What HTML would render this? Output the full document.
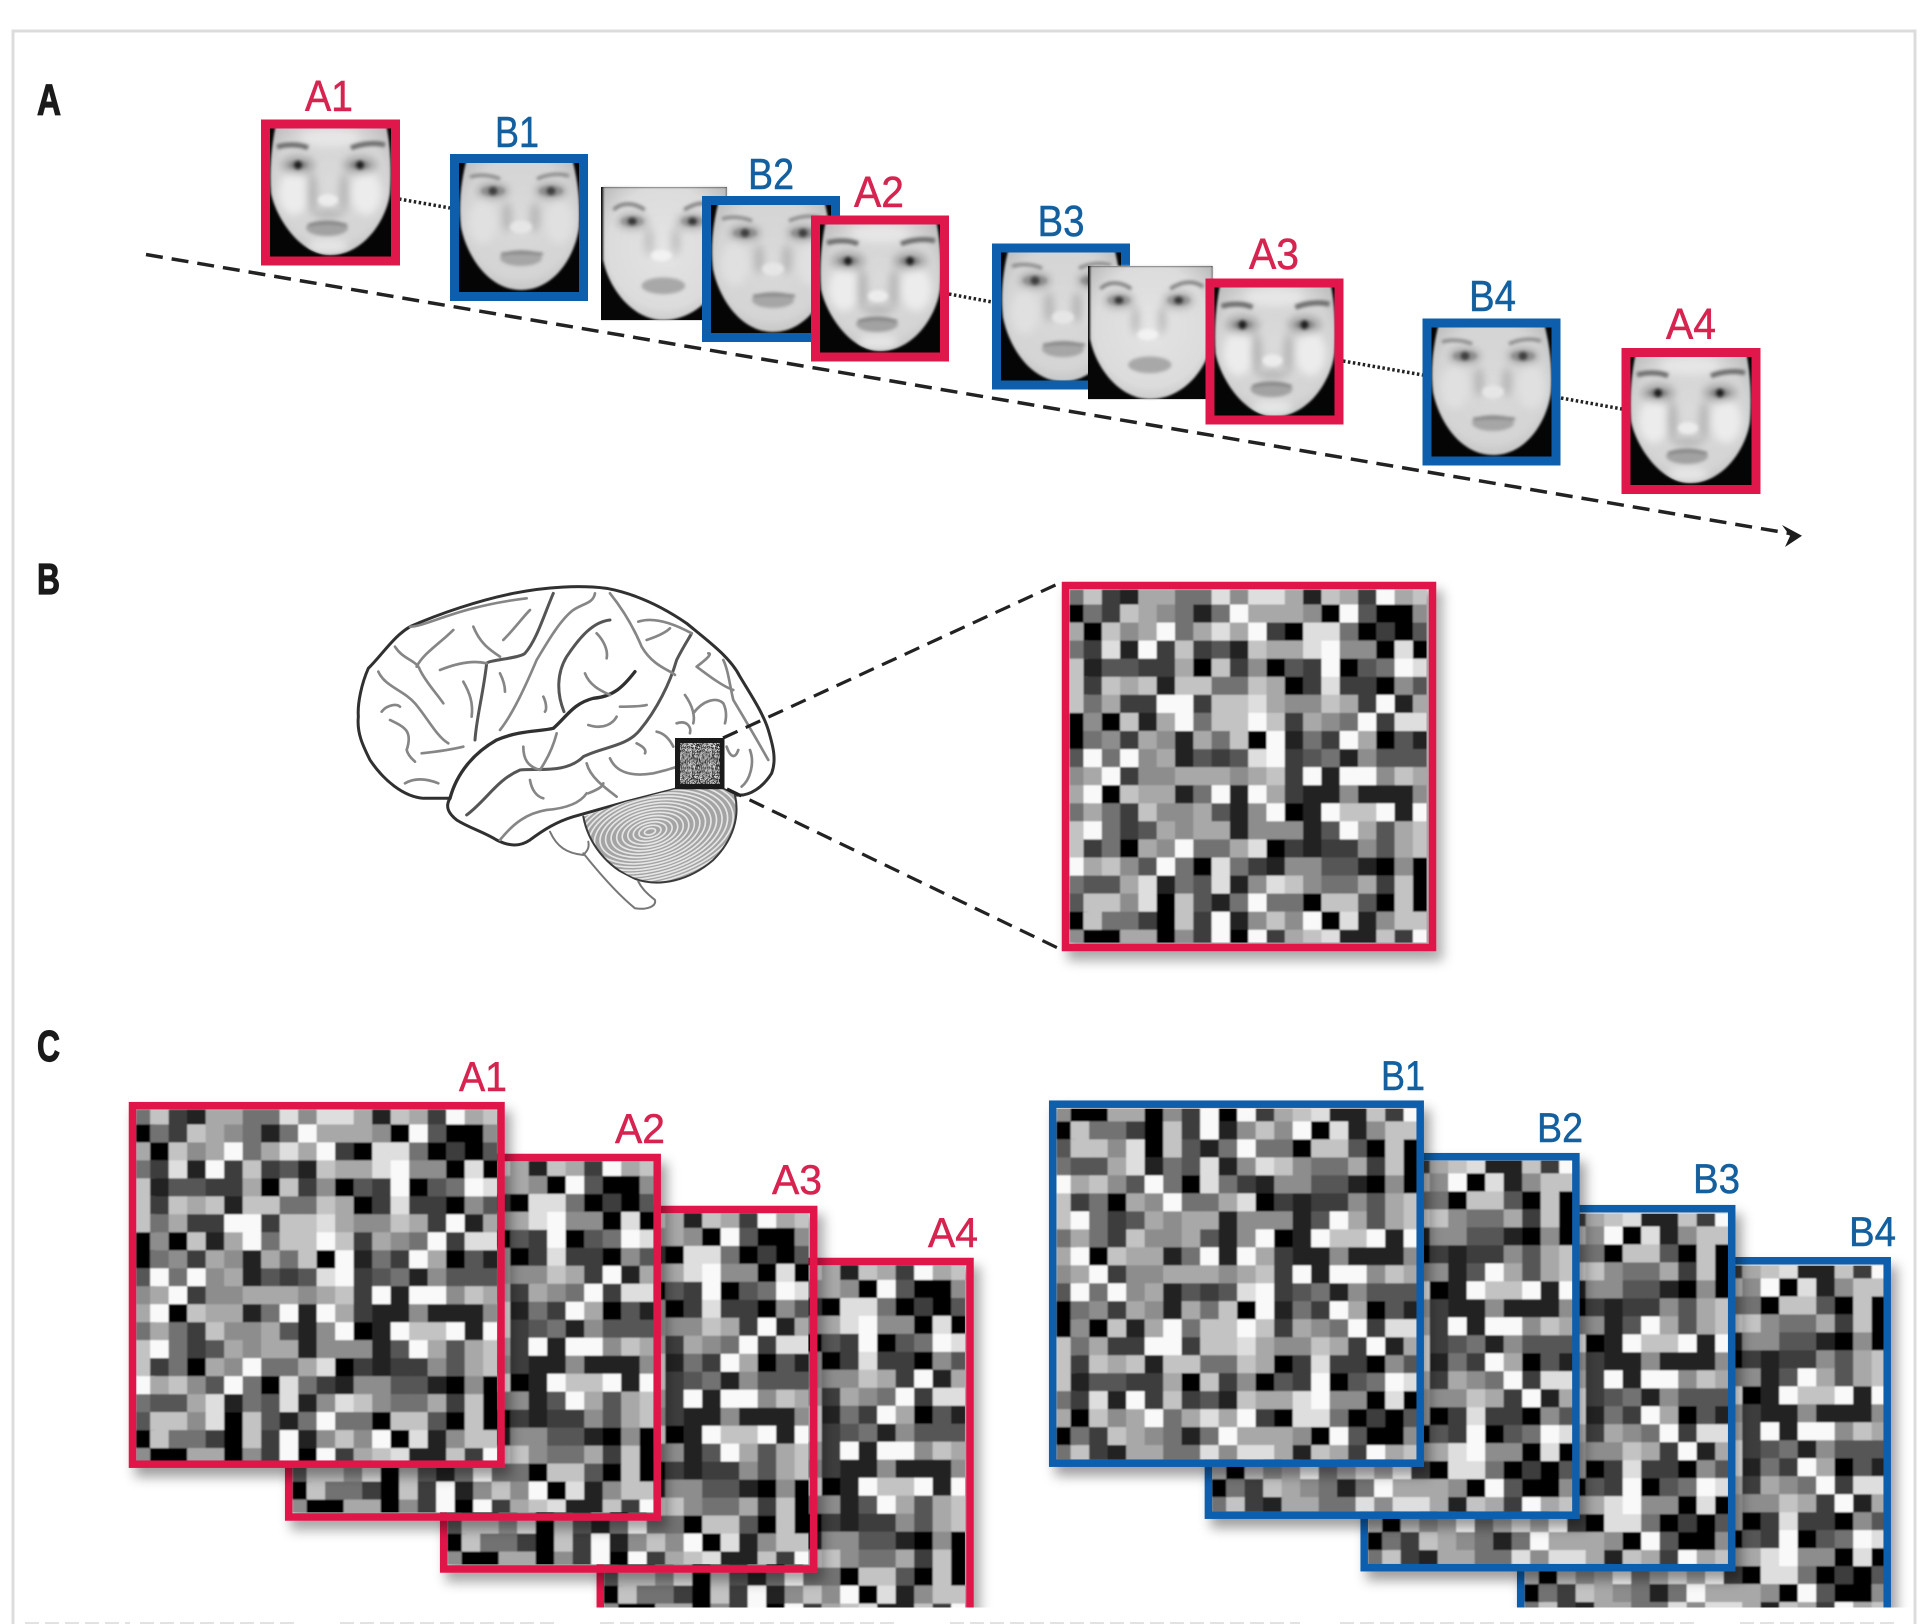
<!DOCTYPE html>
<html><head><meta charset="utf-8"><style>
html,body{margin:0;padding:0;background:#fff}
svg{display:block}
text{font-family:"Liberation Sans",sans-serif}
</style></head><body>
<svg xmlns="http://www.w3.org/2000/svg" width="1928" height="1624" viewBox="0 0 1928 1624">
<defs>
<filter id="bl" x="-5%" y="-5%" width="110%" height="110%"><feGaussianBlur stdDeviation="0.9"/></filter>
<filter id="fb" x="-5%" y="-5%" width="110%" height="110%"><feGaussianBlur stdDeviation="1.1"/></filter>
<filter id="fbb" x="-20%" y="-20%" width="140%" height="140%"><feGaussianBlur stdDeviation="1.6"/></filter>
<filter id="fs" x="-20%" y="-20%" width="140%" height="140%"><feGaussianBlur stdDeviation="4"/></filter>
<filter id="sh" x="-10%" y="-10%" width="125%" height="125%"><feDropShadow dx="6" dy="9" stdDeviation="6" flood-color="#000" flood-opacity=".38"/></filter>
<radialGradient id="sk" cx=".5" cy=".45" r=".65"><stop offset="0" stop-color="#dadada"/><stop offset=".7" stop-color="#d4d4d4"/><stop offset="1" stop-color="#b8b8b8"/></radialGradient>
<radialGradient id="sk2" cx=".5" cy=".45" r=".65"><stop offset="0" stop-color="#e4e4e4"/><stop offset=".7" stop-color="#dcdcdc"/><stop offset="1" stop-color="#bcbcbc"/></radialGradient>
<clipPath id="gc"><rect x="0" y="0" width="357" height="353"/></clipPath>
<clipPath id="cc"><rect x="0" y="1000" width="1928" height="607.5"/></clipPath>
<clipPath id="cbl"><path d="M730 770C745 850 800 920 880 955C960 985 1050 960 1120 900C1180 840 1200 770 1185 705L1150 688H1005L860 725Z"/></clipPath>
<clipPath id="fcA"><rect x="-2" y="-2" width="126" height="134"/></clipPath>
<clipPath id="fcB"><rect x="-2" y="-2" width="126" height="134"/></clipPath>
<clipPath id="fA1"><path d="M6 0H116C120 15 122 40 120 65C117 90 95 127 60 127C30 127 6 90 1 65C-1 40 2 15 6 0Z"/></clipPath>
<clipPath id="fB1"><path d="M8 0H113C118 15 122 40 120 65C116 95 95 128 62 128C30 128 8 95 2 65C-1 40 3 15 8 0Z"/></clipPath>
<clipPath id="fC1"><path d="M2 0H121V70C116 100 92 128 60 128C32 128 8 100 2 70Z"/></clipPath>
<g id="grid" clip-path="url(#gc)"><g id="gridin" filter="url(#bl)"></g></g>
<g id="fA" clip-path="url(#fcA)">
<rect x="-2" y="-2" width="126" height="134" fill="#050505"/>
<g filter="url(#fb)"><path d="M6 -4H116C120 15 122 40 120 65C117 90 95 127 60 127C30 127 6 90 1 65C-1 40 2 15 6 -4Z" fill="url(#sk)"/></g>
<g clip-path="url(#fA1)">
<g filter="url(#fs)">
<ellipse cx="24" cy="65" rx="15" ry="22" fill="#ececec"/><ellipse cx="96" cy="65" rx="15" ry="22" fill="#ececec"/>
<ellipse cx="60" cy="10" rx="30" ry="9" fill="#e6e6e6"/>
<ellipse cx="58" cy="118" rx="20" ry="7" fill="#e6e6e6"/>
<ellipse cx="28" cy="37" rx="17" ry="9" fill="#a8a8a8"/><ellipse cx="90" cy="37" rx="17" ry="9" fill="#a8a8a8"/>
<ellipse cx="42" cy="65" rx="5" ry="20" fill="#b4b4b4"/><ellipse cx="74" cy="65" rx="5" ry="20" fill="#b8b8b8"/>
<ellipse cx="58" cy="86" rx="15" ry="4" fill="#b4b4b4"/>
</g>
<g filter="url(#fbb)">
<path d="M7 19C16 16 30 16 38 20M81 20C90 16 105 14 115 17" fill="none" stroke="#6e6e6e" stroke-width="5"/>
<ellipse cx="28" cy="37" rx="10" ry="4.500" fill="#8e8e8e"/><ellipse cx="90" cy="37" rx="10" ry="4.500" fill="#8e8e8e"/>
<ellipse cx="28" cy="37" rx="5" ry="4.500" fill="#242424"/><ellipse cx="90" cy="37" rx="5" ry="4.500" fill="#242424"/>
<ellipse cx="58" cy="72" rx="10" ry="6" fill="#ececec"/>
<ellipse cx="57" cy="100" rx="21" ry="8" fill="#a2a2a2"/>
<path d="M38 97Q57 93 77 97" fill="none" stroke="#808080" stroke-width="2.500"/>
</g></g>
</g>
<g id="fB" clip-path="url(#fcB)">
<rect x="-2" y="-2" width="126" height="134" fill="#050505"/>
<g filter="url(#fb)"><path d="M8 -4H113C118 15 122 40 120 65C116 95 95 128 62 128C30 128 8 95 2 65C-1 40 3 15 8 -4Z" fill="url(#sk)"/></g>
<g clip-path="url(#fB1)">
<g filter="url(#fs)">
<ellipse cx="24" cy="60" rx="14" ry="22" fill="#e0e0e0"/><ellipse cx="100" cy="60" rx="14" ry="22" fill="#e0e0e0"/>
<ellipse cx="34" cy="29" rx="16" ry="8" fill="#a8a8a8"/><ellipse cx="92" cy="29" rx="16" ry="8" fill="#a8a8a8"/>
<ellipse cx="48" cy="55" rx="5" ry="15" fill="#b8b8b8"/><ellipse cx="76" cy="55" rx="5" ry="15" fill="#b8b8b8"/>
</g>
<g filter="url(#fbb)">
<path d="M11 15C20 12 32 13 41 17M78 17C88 12 100 11 110 14" fill="none" stroke="#8a8a8a" stroke-width="3.500"/>
<ellipse cx="34" cy="29" rx="12" ry="5" fill="#8e8e8e"/><ellipse cx="92" cy="29" rx="12" ry="5" fill="#8e8e8e"/>
<ellipse cx="34" cy="29" rx="5" ry="4.500" fill="#404040"/><ellipse cx="92" cy="29" rx="5" ry="4.500" fill="#404040"/>
<ellipse cx="62" cy="65" rx="11" ry="6.500" fill="#e6e6e6"/>
<ellipse cx="62" cy="96" rx="21" ry="8" fill="#a6a6a6"/>
<path d="M42 92Q62 89 84 92" fill="none" stroke="#808080" stroke-width="2.500"/>
</g></g>
</g>
<g id="fC">
<rect width="121" height="128" fill="#060606"/>
<g filter="url(#fb)"><path d="M2 0H121V70C116 100 92 128 60 128C32 128 8 100 2 70Z" fill="url(#sk2)"/></g>
<g clip-path="url(#fC1)">
<g filter="url(#fs)">
<ellipse cx="30" cy="33" rx="15" ry="8" fill="#b0b0b0"/><ellipse cx="88" cy="33" rx="15" ry="8" fill="#b0b0b0"/>
<ellipse cx="46" cy="52" rx="4" ry="14" fill="#bcbcbc"/><ellipse cx="72" cy="52" rx="4" ry="14" fill="#bcbcbc"/>
</g>
<g filter="url(#fbb)">
<path d="M12 22C20 14 32 15 42 22M80 22C90 15 102 13 112 20" fill="none" stroke="#808080" stroke-width="3.500"/>
<ellipse cx="30" cy="33" rx="11" ry="5" fill="#969696"/><ellipse cx="88" cy="33" rx="11" ry="5" fill="#969696"/>
<ellipse cx="30" cy="33" rx="5" ry="4" fill="#383838"/><ellipse cx="88" cy="33" rx="5" ry="4" fill="#383838"/>
<ellipse cx="58" cy="66" rx="10" ry="5.500" fill="#f2f2f2"/>
<ellipse cx="60" cy="95" rx="21" ry="8" fill="#a8a8a8"/>
</g></g>
</g>
</defs>

<rect width="1928" height="1624" fill="#fff"/>
<path d="M13 1624V31H1915V1624" fill="none" stroke="#dcdcdc" stroke-width="3"/>

<!-- section letters -->
<g fill="#1a1a1a" stroke="#1a1a1a" stroke-width="1.200" font-weight="700" font-size="44">
<text x="37" y="114.5" textLength="24" lengthAdjust="spacingAndGlyphs">A</text>
<text x="37" y="594" textLength="23" lengthAdjust="spacingAndGlyphs">B</text>
<text x="37" y="1061" textLength="23" lengthAdjust="spacingAndGlyphs">C</text>
</g>

<!-- timeline -->
<line x1="146" y1="254.5" x2="1790" y2="533.5" stroke="#222" stroke-width="3.500" stroke-dasharray="17 9"/>
<path d="M1782 525L1802 535.7L1785 547L1790 536Z" fill="#1c1c1c"/>
<g stroke="#222" stroke-width="3.500" stroke-dasharray="2.5 2.5" fill="none">
<line x1="399" y1="199" x2="450" y2="208"/>
<line x1="949" y1="294" x2="992" y2="302"/>
<line x1="1343" y1="361" x2="1423" y2="375"/>
<line x1="1561" y1="398" x2="1622" y2="409"/>
</g>

<!-- faces -->
<use href="#fA" transform="translate(270 128)"/>
<rect x="265.5" y="124" width="130" height="137" fill="none" stroke="#e0174a" stroke-width="9"/>
<use href="#fB" transform="translate(459 162)"/>
<rect x="454.5" y="158.5" width="129" height="138" fill="none" stroke="#0d5fae" stroke-width="9"/>
<use href="#fC" transform="translate(601 187) scale(1.04 1.04)"/>
<use href="#fB" transform="translate(711 204)"/>
<rect x="706.5" y="200.5" width="129" height="137" fill="none" stroke="#0d5fae" stroke-width="9"/>
<use href="#fA" transform="translate(820 224)"/>
<rect x="815.5" y="220" width="129" height="137" fill="none" stroke="#e0174a" stroke-width="9"/>
<use href="#fB" transform="translate(1001 251) scale(1 1.02)"/>
<rect x="996.5" y="248" width="129" height="137" fill="none" stroke="#0d5fae" stroke-width="9"/>
<use href="#fC" transform="translate(1088 266) scale(1.03 1.04)"/>
<use href="#fA" transform="translate(1214.5 287) scale(1 1.02)"/>
<rect x="1210" y="283" width="129" height="137" fill="none" stroke="#e0174a" stroke-width="9"/>
<use href="#fB" transform="translate(1431 327)"/>
<rect x="1427" y="323" width="129" height="138" fill="none" stroke="#0d5fae" stroke-width="9"/>
<use href="#fA" transform="translate(1630 356)"/>
<rect x="1626" y="352.500" width="130" height="137" fill="none" stroke="#e0174a" stroke-width="9"/>

<!-- face labels -->
<g font-size="44" text-anchor="middle" fill="#d6234f" stroke="#d6234f" stroke-width=".5">
<text x="329" y="111" textLength="48" lengthAdjust="spacingAndGlyphs">A1</text>
<text x="879" y="207" textLength="50" lengthAdjust="spacingAndGlyphs">A2</text>
<text x="1274" y="269" textLength="50" lengthAdjust="spacingAndGlyphs">A3</text>
<text x="1691" y="339" textLength="50" lengthAdjust="spacingAndGlyphs">A4</text>
</g>
<g font-size="44" text-anchor="middle" fill="#14609f" stroke="#14609f" stroke-width=".5">
<text x="517" y="147" textLength="44" lengthAdjust="spacingAndGlyphs">B1</text>
<text x="771" y="189" textLength="46" lengthAdjust="spacingAndGlyphs">B2</text>
<text x="1061" y="236" textLength="47" lengthAdjust="spacingAndGlyphs">B3</text>
<text x="1492.500" y="311" textLength="47" lengthAdjust="spacingAndGlyphs">B4</text>
</g>

<!-- brain -->
<g transform="translate(340 560) scale(.3333)" fill="none" stroke-linecap="round" stroke-linejoin="round">
<path d="M330 715L250 715C190 710 130 660 90 600C70 560 50 520 55 470C52 430 65 370 85 325C130 280 160 230 210 200C300 160 420 120 520 100C620 80 720 75 800 85C880 100 960 135 1040 190C1100 240 1170 290 1200 350C1230 400 1270 460 1285 510C1300 560 1310 600 1295 640C1270 680 1230 710 1190 705L1150 688H1005L860 725L700 770C650 785 610 810 570 840C540 860 510 860 470 840C430 815 390 805 350 780C325 760 315 740 330 715Z" fill="#fff" stroke="#303030" stroke-width="9"/>
<path d="M730 770C745 850 800 920 880 955C960 985 1050 960 1120 900C1180 840 1200 770 1185 705L1150 688H1005L860 725Z" fill="#a4a4a4"/>
<g id="cblines" clip-path="url(#cbl)" stroke="#e6e6e6" stroke-width="5"></g>
<path d="M730 770C745 850 800 920 880 955C960 985 1050 960 1120 900C1180 840 1200 770 1185 705" stroke="#3a3a3a" stroke-width="6"/>
<path d="M630 815C650 860 680 880 730 885C745 870 748 860 745 845" fill="#fff" stroke="#777" stroke-width="6"/>
<path d="M730 880C770 930 830 1000 885 1045C920 1050 950 1040 945 1020C920 1000 905 985 895 965" fill="#fff" stroke="#777" stroke-width="6"/>
<!-- dark sulci -->
<path d="M330 715C350 640 400 580 470 540C540 510 600 515 640 505C680 470 700 430 760 415C820 410 850 380 885 335" stroke="#303030" stroke-width="10"/>
<path d="M380 765C440 720 470 660 540 630C600 625 680 640 730 590C790 560 860 560 900 510C950 450 990 370 1010 300C1030 260 1050 230 1055 220" stroke="#555" stroke-width="9"/>
<path d="M405 540C410 470 430 400 440 310C445 300 540 295 555 280C590 240 610 170 640 100" stroke="#555" stroke-width="9"/>
<path d="M810 180C760 185 720 230 680 290C650 340 650 400 672 455" stroke="#555" stroke-width="9"/>
<!-- light sulci -->
<g stroke="#868686" stroke-width="8">
<path d="M480 510C520 460 560 370 590 300C620 250 660 180 700 150C730 130 760 130 765 100"/>
<path d="M810 100C850 150 880 200 905 260C940 320 990 330 1005 345"/>
<path d="M115 335C135 380 190 390 225 430C260 470 290 530 325 550"/>
<path d="M165 260C190 300 230 300 240 330C260 370 290 400 310 430"/>
<path d="M230 320C250 280 300 250 340 210"/>
<path d="M400 200C420 250 450 270 480 290M490 240C520 210 550 170 570 150"/>
<path d="M210 200C260 200 350 140 560 115"/>
<path d="M300 330C350 310 400 300 440 310M370 365C390 400 400 430 395 470"/>
<path d="M480 340C490 360 495 380 495 395M610 410C620 430 620 450 615 455"/>
<path d="M125 455C140 435 170 430 180 440M150 480C190 500 220 510 200 570C205 590 220 600 225 605"/>
<path d="M245 580C290 575 330 570 370 560M195 670C230 650 270 660 295 670"/>
<path d="M770 220C790 240 805 270 800 295M735 340C750 380 790 395 810 405"/>
<path d="M840 440C870 440 900 440 920 435M745 495C790 510 820 490 830 470"/>
<path d="M895 185C940 170 1000 190 1055 220M920 240C950 230 975 220 990 205"/>
<path d="M1070 320C1110 290 1115 280 1105 280M1070 320C1110 350 1150 380 1180 390M1150 300C1165 330 1170 380 1180 420C1210 470 1240 520 1285 600"/>
<path d="M1035 405C1060 440 1065 470 1060 490M1060 460C1090 420 1130 410 1150 430C1160 450 1160 470 1155 490"/>
<path d="M1010 490C1040 480 1055 500 1050 520M950 515C975 520 990 540 1000 560"/>
<path d="M810 595C830 640 880 650 940 640C980 630 1000 625 1010 620M890 550C910 560 920 570 915 580"/>
<path d="M740 610C750 650 790 680 830 710M745 700C770 690 790 680 790 670"/>
<path d="M550 560C550 600 565 620 600 630C620 600 640 560 650 520M570 660C575 690 590 710 610 715"/>
<path d="M480 840C520 790 560 760 620 750C680 745 720 730 740 700"/>
<path d="M1160 560C1170 590 1185 600 1195 570M1230 570C1245 610 1230 660 1205 680"/>
</g>
</g>
<!-- small patch -->
<rect x="675" y="738" width="49.500" height="51" fill="#1a1a1a"/>
<g transform="translate(680 743)"><use href="#grid" transform="scale(.055 .058)"/><use href="#grid" transform="translate(20 0) scale(.055 .058)"/><use href="#grid" transform="translate(0 20.500) scale(.055 .058)"/><use href="#grid" transform="translate(20 20.500) scale(.055 .058)"/><rect width="39.500" height="41" fill="#fff" opacity=".12"/></g>
<g stroke="#222" stroke-width="3.200" stroke-dasharray="16 9">
<line x1="723" y1="738" x2="1062" y2="582"/>
<line x1="727" y1="789" x2="1062" y2="950"/>
</g>

<!-- big grid -->
<g filter="url(#sh)">
<use href="#grid" transform="translate(1069.500 589.500)"/>
<rect x="1065.500" y="585.500" width="367" height="362" fill="none" stroke="#e0174a" stroke-width="7.500"/>
</g>

<!-- panel C red -->
<g clip-path="url(#cc)">
<g filter="url(#sh)"><use href="#grid" transform="translate(604 1265) scale(1.011 .995)"/><path d="M600.300 1700V1261.500H970V1700" fill="none" stroke="#e0174a" stroke-width="7.500"/></g>
</g>
<g filter="url(#sh)"><use href="#grid" transform="translate(447.500 1213) scale(1.011 .995)"/><rect x="443.700" y="1209.500" width="370" height="359.500" fill="none" stroke="#e0174a" stroke-width="7.500"/></g>
<g filter="url(#sh)"><use href="#grid" transform="translate(292.500 1161) scale(1.011 .995)"/><rect x="288.700" y="1157.500" width="368.500" height="359.500" fill="none" stroke="#e0174a" stroke-width="7.500"/></g>
<g filter="url(#sh)"><use href="#grid" transform="translate(136 1109.500) scale(1.011 .995)"/><rect x="132.500" y="1105.700" width="368.500" height="358.500" fill="none" stroke="#e0174a" stroke-width="7.500"/></g>

<!-- panel C blue -->
<g clip-path="url(#cc)">
<g filter="url(#sh)"><use href="#grid" transform="translate(1524.500 1617) scale(1.011 -.995)"/><path d="M1520.700 1700V1260.700H1887.200V1700" fill="none" stroke="#0d5fae" stroke-width="7.500"/></g>
</g>
<g filter="url(#sh)"><use href="#grid" transform="translate(1368 1565) scale(1.011 -.995)"/><rect x="1364.200" y="1208.700" width="367.500" height="359" fill="none" stroke="#0d5fae" stroke-width="7.500"/></g>
<g filter="url(#sh)"><use href="#grid" transform="translate(1212 1512) scale(1.011 -.995)"/><rect x="1208.400" y="1156.700" width="367.500" height="358.500" fill="none" stroke="#0d5fae" stroke-width="7.500"/></g>
<g filter="url(#sh)"><use href="#grid" transform="translate(1056.500 1460) scale(1.011 -.995)"/><rect x="1052.700" y="1104.200" width="367.500" height="359" fill="none" stroke="#0d5fae" stroke-width="7.500"/></g>

<g font-size="42" text-anchor="end" fill="#d6234f" stroke="#d6234f" stroke-width=".5">
<text x="507" y="1091" textLength="48" lengthAdjust="spacingAndGlyphs">A1</text>
<text x="665" y="1143" textLength="50" lengthAdjust="spacingAndGlyphs">A2</text>
<text x="822" y="1194" textLength="50" lengthAdjust="spacingAndGlyphs">A3</text>
<text x="978" y="1247" textLength="50" lengthAdjust="spacingAndGlyphs">A4</text>
</g>
<g font-size="42" text-anchor="end" fill="#14609f" stroke="#14609f" stroke-width=".5">
<text x="1425" y="1090" textLength="44" lengthAdjust="spacingAndGlyphs">B1</text>
<text x="1583" y="1142" textLength="46" lengthAdjust="spacingAndGlyphs">B2</text>
<text x="1740" y="1193" textLength="47" lengthAdjust="spacingAndGlyphs">B3</text>
<text x="1896" y="1246" textLength="47" lengthAdjust="spacingAndGlyphs">B4</text>
</g>

<path d="M25 1623H130M140 1623H300M340 1623H560M600 1623H900M950 1623H1300M1340 1623H1700M1740 1623H1900" stroke="#e2e2e2" stroke-width="2" stroke-dasharray="14 6"/>
</svg>
<script>
(function(){
var rows=["47216644858861762967","04276541496665093005","60756946869208840203","42819272317668955080","71332260725032903498","72767177447602822053","74622992778655762916","05071694779726549288","04526516470914296031","39495613238923415333","56925566656729199576","69076614919621151115","46427556315901977919","79423656615551396367","72406594468021225367","96753940842155331050","43368143815875446270","37758073149440773070","07442072915759081577","50066052909267811729"];
var xs=[0,14],i,j;for(i=1;i<=19;i++)xs.push(14+i*18.3);
var ys=[0,15];for(i=1;i<=19;i++)ys.push(15+i*18.07);
var s="";
for(j=0;j<20;j++)for(i=0;i<20;i++){
var c=Math.round(6+27*(+rows[j][i]));
s+='<rect x="'+xs[i].toFixed(1)+'" y="'+ys[j].toFixed(1)+'" width="18.8" height="18.6" fill="rgb('+c+','+c+','+c+')"/>';
}
document.getElementById("gridin").innerHTML=s;
var l="";
for(i=28;i>=1;i--){
l+='<ellipse cx="930" cy="815" rx="'+(i*17)+'" ry="'+(i*9)+'" transform="rotate(-14 930 815)"/>';
}
document.getElementById("cblines").innerHTML=l;
})();
</script>
</body></html>
